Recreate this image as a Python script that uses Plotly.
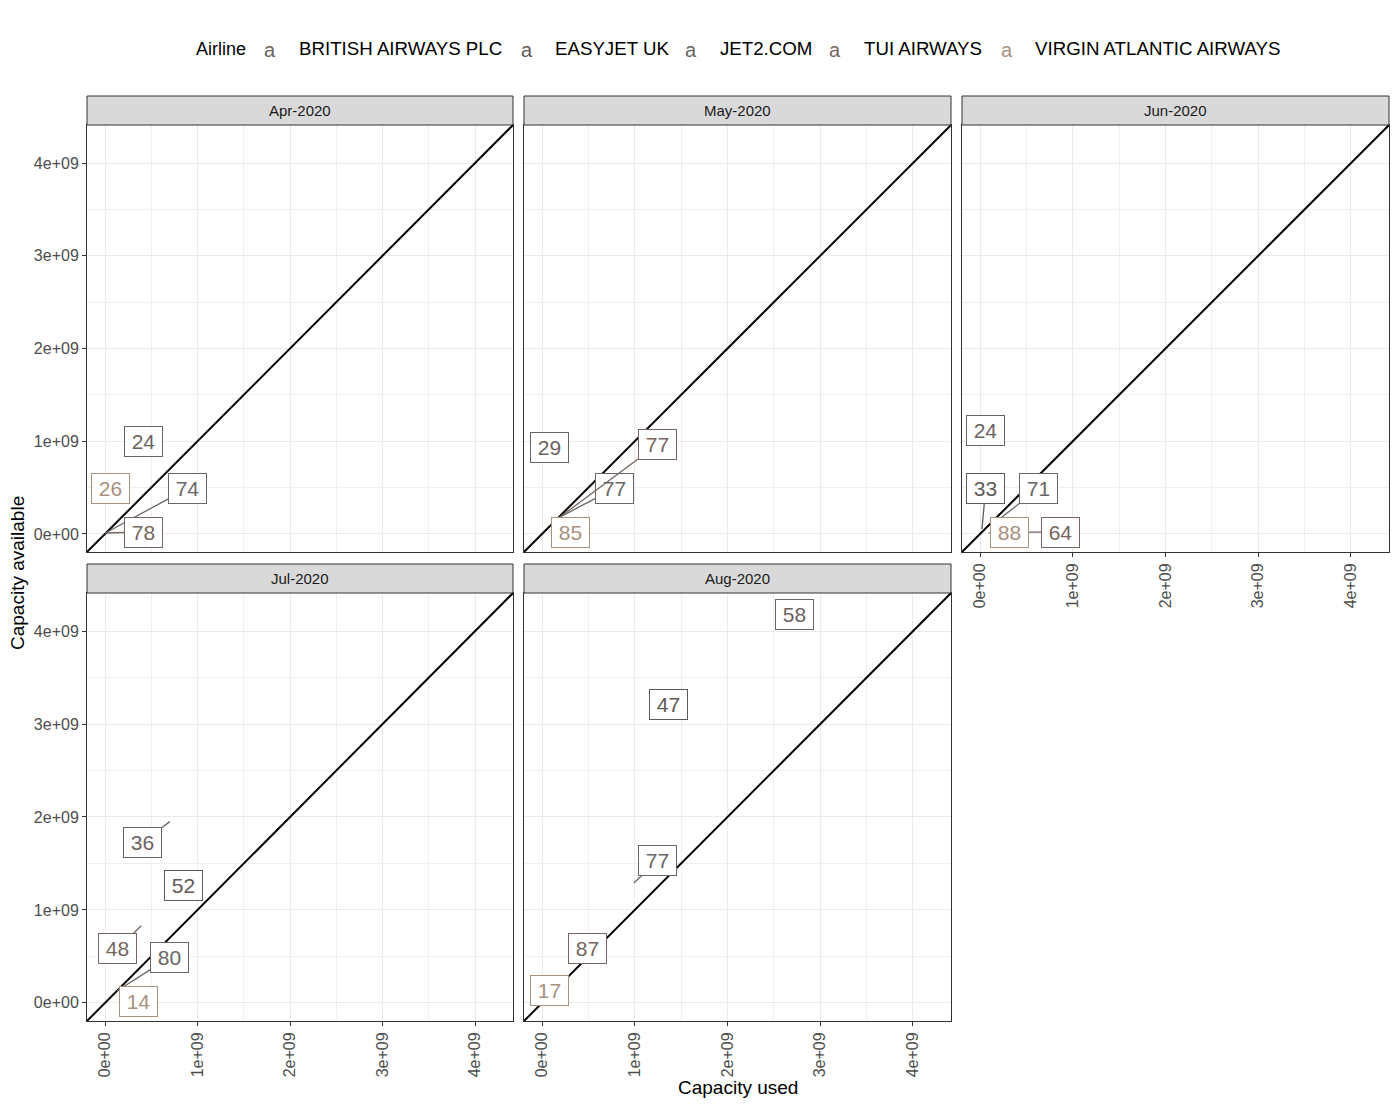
import plotly.graph_objects as go

# ---------------- data ----------------
months = ["Apr-2020", "May-2020", "Jun-2020", "Jul-2020", "Aug-2020"]
airlines = ["BRITISH AIRWAYS PLC", "EASYJET UK", "JET2.COM", "TUI AIRWAYS", "VIRGIN ATLANTIC AIRWAYS"]
airline_colors = ["#6b6262", "#5f5858", "#686666", "#756660", "#a8917f"]

rec_month = ["Apr-2020", "Apr-2020", "Apr-2020", "Apr-2020",
             "May-2020", "May-2020", "May-2020", "May-2020",
             "Jun-2020", "Jun-2020", "Jun-2020", "Jun-2020", "Jun-2020",
             "Jul-2020", "Jul-2020", "Jul-2020", "Jul-2020", "Jul-2020",
             "Aug-2020", "Aug-2020", "Aug-2020", "Aug-2020", "Aug-2020"]
rec_airline = ["BRITISH AIRWAYS PLC", "JET2.COM", "TUI AIRWAYS", "VIRGIN ATLANTIC AIRWAYS",
               "BRITISH AIRWAYS PLC", "JET2.COM", "TUI AIRWAYS", "VIRGIN ATLANTIC AIRWAYS",
               "BRITISH AIRWAYS PLC", "EASYJET UK", "JET2.COM", "TUI AIRWAYS", "VIRGIN ATLANTIC AIRWAYS",
               "BRITISH AIRWAYS PLC", "EASYJET UK", "JET2.COM", "TUI AIRWAYS", "VIRGIN ATLANTIC AIRWAYS",
               "BRITISH AIRWAYS PLC", "EASYJET UK", "JET2.COM", "TUI AIRWAYS", "VIRGIN ATLANTIC AIRWAYS"]
capacity_used = [0.42e9, 0.005e9, 0.005e9, 0.06e9,
                 0.08e9, 0.17e9, 0.19e9, 0.18e9,
                 0.06e9, 0.02e9, 0.13e9, 0.30e9, 0.09e9,
                 0.70e9, 0.85e9, 0.13e9, 0.39e9, 0.36e9,
                 2.72e9, 1.36e9, 0.99e9, 0.49e9, 0.08e9]
capacity_available = [1.00e9, 0.01e9, 0.01e9, 0.49e9,
                      0.93e9, 0.17e9, 0.18e9, 0.17e9,
                      1.12e9, 0.05e9, 0.10e9, 0.02e9, 0.01e9,
                      1.95e9, 1.26e9, 0.13e9, 0.83e9, 0.02e9,
                      4.18e9, 3.21e9, 1.29e9, 0.59e9, 0.13e9]
load_factor = ["24", "74", "78", "26",
               "29", "77", "77", "85",
               "24", "33", "71", "64", "88",
               "36", "52", "80", "48", "14",
               "58", "47", "77", "87", "17"]
# repelled label positions (data units)
label_used = [0.42e9, 0.89e9, 0.42e9, 0.06e9,
              0.08e9, 0.78e9, 1.24e9, 0.31e9,
              0.06e9, 0.06e9, 0.63e9, 0.87e9, 0.32e9,
              0.41e9, 0.85e9, 0.70e9, 0.14e9, 0.36e9,
              2.72e9, 1.36e9, 1.24e9, 0.49e9, 0.08e9]
label_available = [1.00e9, 0.49e9, 0.02e9, 0.49e9,
                   0.93e9, 0.49e9, 0.96e9, 0.02e9,
                   1.12e9, 0.49e9, 0.49e9, 0.02e9, 0.02e9,
                   1.73e9, 1.26e9, 0.49e9, 0.58e9, 0.02e9,
                   4.18e9, 3.21e9, 1.53e9, 0.59e9, 0.13e9]

tick_vals = [0, 1e9, 2e9, 3e9, 4e9]
tick_text = ["0e+00", "1e+09", "2e+09", "3e+09", "4e+09"]
minor_vals = [0.5e9, 1.5e9, 2.5e9, 3.5e9]
axis_range = [-0.195e9, 4.41e9]

# ---------------- layout helpers ----------------
W, H = 1400, 1120
OFF = 8  # page body margin
FONT = "Liberation Sans, Arial, sans-serif"
col_px = [(87, 513), (524, 951), (962, 1389)]
row_px = [(125, 552), (593, 1021)]


def px(x):
    return (x - OFF) / W


def py(y):
    return 1 - (y - OFF) / H


fig = go.Figure()
shapes = []
annotations = []
color_of = dict(zip(airlines, airline_colors))

for i, m in enumerate(months):
    n = i + 1
    col, row = i % 3, i // 3
    xa = "x" if n == 1 else f"x{n}"
    ya = "y" if n == 1 else f"y{n}"
    xkey = "xaxis" if n == 1 else f"xaxis{n}"
    ykey = "yaxis" if n == 1 else f"yaxis{n}"
    x0, x1 = col_px[col]
    y0, y1 = row_px[row]
    show_x = (i >= 2)
    show_y = (col == 0)
    common = dict(range=axis_range, showgrid=True, gridcolor="#EBEBEB", gridwidth=1.1,
                  zeroline=False, showline=True, mirror=True, linecolor="#333333", linewidth=1,
                  tickmode="array", tickvals=tick_vals, ticktext=tick_text,
                  tickfont=dict(family=FONT, size=16, color="#4D4D4D"),
                  ticks="outside", ticklen=4, tickcolor="#333333", tickwidth=1,
                  minor=dict(tickmode="array", tickvals=minor_vals, showgrid=True,
                             gridcolor="#EFEFEF", gridwidth=0.8, ticks=""))
    fig.update_layout(**{
        xkey: dict(common, domain=[px(x0), px(x1)], anchor=ya,
                   showticklabels=show_x, tickangle=-90,
                   ticks="outside" if show_x else ""),
        ykey: dict(common, domain=[py(y1), py(y0)], anchor=xa,
                   showticklabels=show_y,
                   ticks="outside" if show_y else ""),
    })
    # y = x reference line
    fig.add_trace(go.Scatter(x=axis_range, y=axis_range, mode="lines",
                             line=dict(color="black", width=2),
                             xaxis=xa, yaxis=ya, showlegend=False, hoverinfo="skip"))
    # strip
    shapes.append(dict(type="rect", xref="paper", yref="paper",
                       x0=px(x0), x1=px(x1), y0=py(y0), y1=py(y0 - 29),
                       fillcolor="#D9D9D9", line=dict(color="#333333", width=1)))
    annotations.append(dict(text=m, xref="paper", yref="paper",
                            x=px((x0 + x1) / 2), y=py(y0 - 14.5), showarrow=False,
                            xanchor="center", yanchor="middle",
                            font=dict(family=FONT, size=15, color="#1A1A1A")))
    # labels
    half_w, half_h = 0.21e9, 0.16e9
    for a in airlines:
        for k in range(len(rec_month)):
            if rec_month[k] != m or rec_airline[k] != a:
                continue
            c = color_of[a]
            px_, py_ = capacity_used[k], capacity_available[k]
            lx, ly = label_used[k], label_available[k]
            box = dict(text=load_factor[k], font=dict(family=FONT, size=21, color=c),
                       bgcolor="white", bordercolor=c, borderwidth=1, borderpad=1,
                       width=35, height=27, xref=xa, yref=ya)
            if abs(lx - px_) < half_w and abs(ly - py_) < half_h:
                box.update(x=lx, y=ly, showarrow=False)
            else:
                box.update(x=px_, y=py_, ax=lx, ay=ly, axref=xa, ayref=ya,
                           showarrow=True, arrowhead=0, arrowwidth=1.3,
                           arrowcolor=c, standoff=0)
            annotations.append(box)

# axis titles
annotations.append(dict(text="Capacity used", xref="paper", yref="paper",
                        x=px(738), y=py(1087), showarrow=False,
                        xanchor="center", yanchor="middle",
                        font=dict(family=FONT, size=19, color="black")))
annotations.append(dict(text="Capacity available", xref="paper", yref="paper",
                        x=px(17), y=py(573), showarrow=False, textangle=-90,
                        xanchor="center", yanchor="middle",
                        font=dict(family=FONT, size=19, color="black")))

# legend
annotations.append(dict(text="Airline", xref="paper", yref="paper", x=px(194), y=py(49),
                        xanchor="left", yanchor="middle", showarrow=False,
                        font=dict(family=FONT, size=18, color="black")))
glyph_x = [270, 527, 691, 835, 1007]
name_x = [297, 553, 718, 862, 1033]
for a, c, gx, nx in zip(airlines, airline_colors, glyph_x, name_x):
    annotations.append(dict(text="a", xref="paper", yref="paper", x=px(gx), y=py(50),
                            xanchor="center", yanchor="middle", showarrow=False,
                            font=dict(family=FONT, size=20, color=c)))
    annotations.append(dict(text=a, xref="paper", yref="paper", x=px(nx), y=py(49),
                            xanchor="left", yanchor="middle", showarrow=False,
                            font=dict(family=FONT, size=18.7, color="black")))

fig.update_layout(width=W, height=H, margin=dict(l=0, r=0, t=0, b=0),
                  paper_bgcolor="white", plot_bgcolor="white",
                  showlegend=False, shapes=shapes, annotations=annotations)

fig.write_html("out.html")
